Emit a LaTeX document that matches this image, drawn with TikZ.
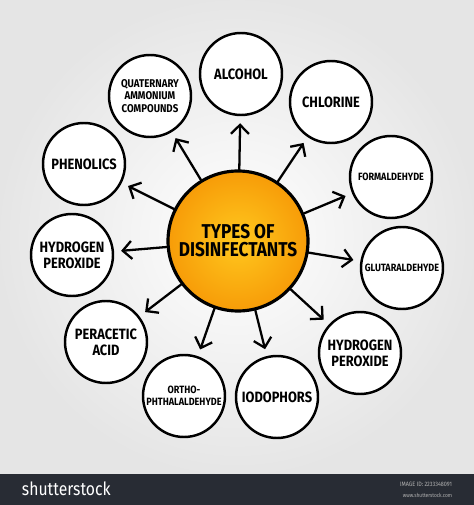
\documentclass[tikz,border=0pt]{standalone}
\usepackage{fontspec}
\setmainfont{Fira Sans}[FakeStretch=0.86]
\usetikzlibrary{arrows.meta}
\definecolor{sunin}{RGB}{255,200,30}
\definecolor{sunout}{RGB}{247,156,8}
\definecolor{barcol}{RGB}{40,44,52}
\tikzset{
    sat/.style = {circle, draw, fill = white, line width = 1.4pt, minimum size = 1.64cm, inner sep = 0pt, align = center, font = \bfseries\fontsize{8.5}{9}\selectfont},
    small/.style = {font = \bfseries\fontsize{6}{6.8}\selectfont}
}
\begin{document}
\begin{tikzpicture}[>={Straight Barb[length = 1.8mm, width = 3.6mm]}, line width = 1.3pt, line cap = round]
            \useasboundingbox (0,0) rectangle (9.48,10.1);
            \shade[inner color = white, outer color = gray!20] (0,0.62) rectangle (9.48,10.1);
            \fill[fill = barcol] (0,0) rectangle (9.48,0.62);
            \node[circle, draw, line width = 1.8pt, minimum size = 2.8cm, inner color = sunin, outer color = sunout, align = center, font = \bfseries\fontsize{11.4}{10.2}\selectfont] (ty) at (4.76,5.28) {TYPES OF\\DISINFECTANTS};
            \node[sat] (al) at (4.82,8.62) {ALCOHOL};
            \node[sat, font = \bfseries\fontsize{6.4}{7}\selectfont] (qu) at (3.00,8.18) {QUATERNARY\\AMMONIUM\\COMPOUNDS};
            \node[sat] (ch) at (6.62,8.06) {CHLORINE};
            \node[sat, small] (fo) at (7.82,6.56) {FORMALDEHYDE};
            \node[sat] (ph) at (1.68,6.82) {PHENOLICS};
            \node[sat] (hl) at (1.44,5.00) {HYDROGEN\\PEROXIDE};
            \node[sat, small] (gl) at (8.04,4.74) {GLUTARALDEHYDE};
            \node[sat] (hr) at (7.20,3.04) {HYDROGEN\\PEROXIDE};
            \node[sat] (pa) at (2.12,3.26) {PERACETIC\\ACID};
            \node[sat, small] (or) at (3.68,2.18) {ORTHO-\\PHTHALALDEHYDE};
            \node[sat] (io) at (5.54,2.16) {IODOPHORS};
            \begin{scope}[shorten > = 4pt]
                \draw[->] (ty) -- (al);
                \draw[->] (ty) -- (qu);
                \draw[->] (ty) -- (ch);
                \draw[->] (ty) -- (fo);
                \draw[->] (ty) -- (ph);
                \draw[->] (ty) -- (hl);
                \draw[->] (ty) -- (gl);
                \draw[->] (ty) -- (hr);
                \draw[->] (ty) -- (pa);
                \draw[->] (ty) -- (or);
                \draw[->] (ty) -- (io);
            \end{scope}
            \node[anchor = west, white, font = \fontsize{10.4}{10}\selectfont] (st) at (0.3,0.32) {shutterstock};
            \node[anchor = east, gray!60!white, font = \fontsize{3.6}{4}\selectfont] (id) at (9.18,0.42) {IMAGE ID: 2233348091};
            \node[anchor = east, gray!60!white, font = \fontsize{3.2}{4}\selectfont] (ww) at (9.18,0.2) {www.shutterstock.com};
        \end{tikzpicture}
\end{document}
